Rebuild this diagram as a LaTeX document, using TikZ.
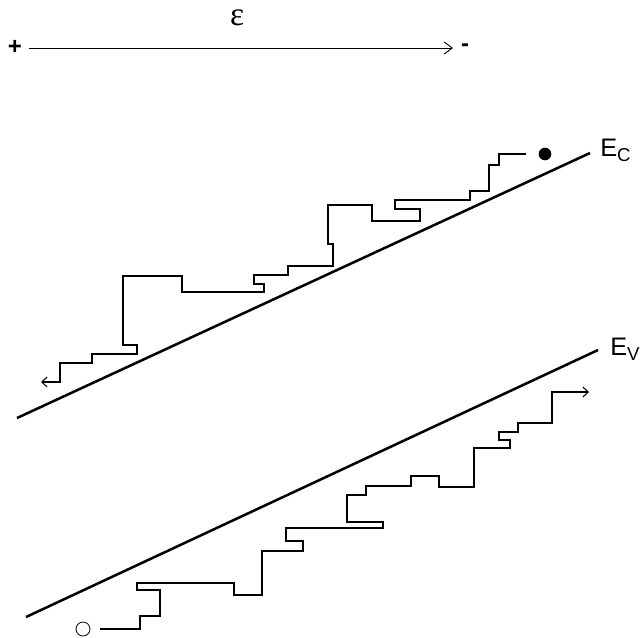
\documentclass[tikz,border=0pt]{standalone}
\usepackage{fontspec}
\setmainfont{Liberation Sans}
\newfontfamily\serifgr{Liberation Serif}
\usetikzlibrary{arrows.meta}
\begin{document}
\begin{tikzpicture}[x=0.75pt,y=-0.75pt,
  band/.style={line width=1.9pt},
  walk/.style={line width=1.2pt,line join=miter},
  barb/.style={-{Straight Barb[length=4pt,width=7.5pt,line width=0.8pt]}},
  lbl/.style={inner sep=0pt,font=\fontsize{19}{22}\selectfont},
  sgn/.style={inner sep=0pt,font=\fontsize{18}{20}\selectfont\bfseries}]
\useasboundingbox (0,0) rectangle (641,637);
% field arrow
\node[sgn] (plus) at (15,47) {+};
\node[sgn] (minus) at (465,48) {-};
\node[inner sep=0pt,font=\serifgr\fontsize{25}{26}\selectfont] (eps) at (237,18) {ε};
\draw[gray!70!black,line width=0.6pt,-{Straight Barb[length=6pt,width=9pt,line width=0.7pt]},black] (29,48) -- (453,48);
% bands
\coordinate (c1) at (17,418);
\coordinate (c2) at (590,153);
\coordinate (v1) at (26,617);
\coordinate (v2) at (598,350);
\draw[band] (c1) -- (c2);
\draw[band] (v1) -- (v2);
\node[lbl,anchor=west] (Ec) at (600,150) {E\textsubscript{\fontsize{14}{15}\selectfont C}};
\node[lbl,anchor=west] (Ev) at (610,349) {E\textsubscript{\fontsize{14}{15}\selectfont V}};
% electron
\node[circle,fill=black,inner sep=0pt,minimum size=9.5pt] (e) at (545,154) {};
\coordinate (es) at (526,154);
\draw[walk,barb] (es) -- (499,154) -- (499,165) -- (489,165) -- (489,191) -- (470,191)
  -- (470,200) -- (395,200) -- (395,209) -- (420,209) -- (420,221) -- (372,221)
  -- (372,205) -- (328,205) -- (328,244) -- (333,244) -- (333,266) -- (288,266)
  -- (288,275) -- (254,275) -- (254,284) -- (264,284) -- (264,292) -- (182,292)
  -- (182,276) -- (123,276) -- (123,345) -- (137,345) -- (137,354) -- (92,354)
  -- (92,363) -- (60,363) -- (60,382) -- (41,382);
% hole
\node[circle,draw=black,line width=0.6pt,inner sep=0pt,minimum size=10.5pt] (h) at (83,629) {};
\coordinate (hs) at (100,629);
\draw[walk,barb] (hs) -- (140,629) -- (140,616) -- (160,616) -- (160,590) -- (137,590)
  -- (137,583) -- (234,583) -- (234,595) -- (262,595) -- (262,551) -- (303,551)
  -- (303,541) -- (286,541) -- (286,528) -- (383,528) -- (383,522) -- (347,522)
  -- (347,495) -- (366,495) -- (366,486) -- (411,486) -- (411,476) -- (439,476)
  -- (439,487) -- (474,487) -- (474,448) -- (510,448) -- (510,440) -- (499,440)
  -- (499,432) -- (518,432) -- (518,423) -- (552,423) -- (552,392) -- (589,392);
\end{tikzpicture}
\end{document}
